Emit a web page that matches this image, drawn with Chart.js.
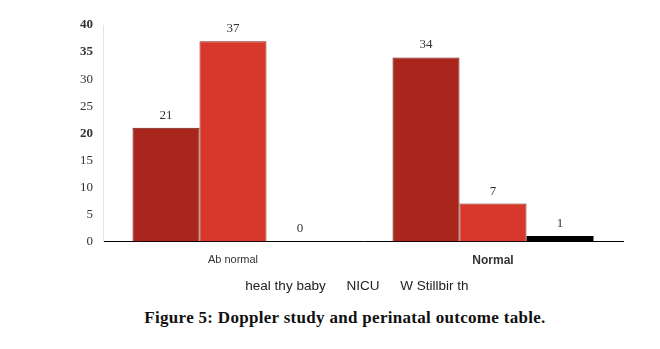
<!DOCTYPE html>
<html lang="en">
<head>
    <meta charset="UTF-8">
    <title>Doppler study and perinatal outcome</title>
    <script src="https://cdn.jsdelivr.net/npm/chart.js"></script>
    <style>
        body { margin: 0; background: #fff; }
        .wrap { position: relative; width: 660px; height: 349px; }
        #outcomeChart { position: absolute; left: 0; top: 0; }
        .caption {
            position: absolute;
            left: 0; width: 690px; top: 308px;
            text-align: center;
            font: bold 17px "Liberation Serif", serif;
            letter-spacing: 0.3px;
            color: #111;
        }
    </style>
</head>
<body>
    <div class="wrap">
        <canvas id="outcomeChart" width="660" height="305"></canvas>
        <div class="caption">Figure 5: Doppler study and perinatal outcome table.</div>
    </div>

    <script>
        // values
        const dopplerGroups = ['Ab normal', 'Normal'];
        const healthyBaby = [21, 34];
        const nicu = [37, 7];
        const stillbirth = [0, 1];
        const seriesNames = ['heal thy baby', 'NICU', 'W Stillbir th'];
        const yTicks = [0, 5, 10, 15, 20, 25, 30, 35, 40];

        // value labels above every bar
        const valueLabels = {
            id: 'valueLabels',
            afterDatasetsDraw(chart) {
                const ctx = chart.ctx;
                ctx.save();
                ctx.font = '13px "Liberation Serif", serif';
                ctx.fillStyle = '#333';
                ctx.textAlign = 'center';
                ctx.textBaseline = 'bottom';
                chart.data.datasets.forEach((ds, i) => {
                    chart.getDatasetMeta(i).data.forEach((bar, j) => {
                        ctx.fillText(ds.data[j], bar.x, bar.y - 6);
                    });
                });
                ctx.restore();
            }
        };

        // legend in the original sits a bit right of centre
        const legendShift = {
            id: 'legendShift',
            afterLayout(chart) {
                chart.legend.left += 42;
                chart.legend.right += 42;
            }
        };

        new Chart(document.getElementById('outcomeChart'), {
            type: 'bar',
            data: {
                labels: dopplerGroups,
                datasets: [
                    { label: seriesNames[0], data: healthyBaby, backgroundColor: '#a9261d', borderColor: '#6b1510', borderWidth: 1 },
                    { label: seriesNames[1], data: nicu, backgroundColor: '#d8382b', borderColor: '#8a1d15', borderWidth: 1 },
                    { label: seriesNames[2], data: stillbirth, backgroundColor: '#000', borderWidth: 0 }
                ]
            },
            options: {
                responsive: false,
                animation: false,
                layout: { padding: { top: 25, right: 37, left: 0, bottom: 2 } },
                datasets: { bar: { categoryPercentage: 0.773, barPercentage: 1.0 } },
                scales: {
                    x: {
                        afterFit(scale) { scale.height = 24; },
                        grid: { display: false, drawTicks: false },
                        border: { color: '#000', width: 1 },
                        ticks: {
                            padding: 12,
                            color: '#333',
                            font: ctx => ctx.index === 1
                                ? { family: '"Liberation Sans", sans-serif', size: 12, weight: 'bold' }
                                : { family: '"Liberation Sans", sans-serif', size: 11 }
                        }
                    },
                    y: {
                        min: 0,
                        max: 40,
                        afterFit(scale) { scale.width = 103; },
                        afterBuildTicks(scale) { scale.ticks = yTicks.map(v => ({ value: v })); },
                        grid: { display: false, drawTicks: false },
                        border: { color: '#e4e4e4', width: 1 },
                        ticks: {
                            padding: 10,
                            color: '#333',
                            font: ctx => [20, 35, 40].includes(ctx.tick && ctx.tick.value)
                                ? { family: '"Liberation Serif", serif', size: 13, weight: 'bold' }
                                : { family: '"Liberation Serif", serif', size: 13 }
                        }
                    }
                },
                plugins: {
                    legend: {
                        position: 'bottom',
                        labels: {
                            boxWidth: 0,
                            boxHeight: 0,
                            padding: 14,
                            color: '#222',
                            font: { family: '"Liberation Sans", sans-serif', size: 13.5 }
                        }
                    },
                    tooltip: { enabled: false }
                }
            },
            plugins: [valueLabels, legendShift]
        });
    </script>
</body>
</html>
